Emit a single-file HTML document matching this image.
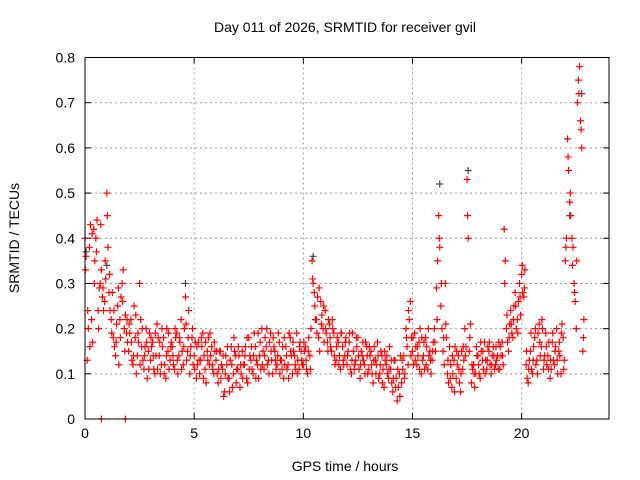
<!DOCTYPE html>
<html><head><meta charset="utf-8"><style>
html,body{margin:0;padding:0;background:#fff}
svg{display:block;font-family:"Liberation Sans",sans-serif}
</style></head><body>
<svg id="chart" width="640" height="480">
<rect width="640" height="480" fill="#fff"/>
<text x="345" y="32" text-anchor="middle" font-size="14">Day 011 of 2026, SRMTID for receiver gvil</text>
<text x="345" y="471" text-anchor="middle" font-size="14">GPS time / hours</text>
<text x="19" y="238" text-anchor="middle" font-size="14" transform="rotate(-90 19 238)">SRMTID / TECUs</text>
<g id="grid"></g><g id="ticks"></g><g id="marks"></g>
<rect x="85" y="57.5" width="524" height="361.5" fill="none" stroke="#000" stroke-width="1"/>
</svg>
<script>
const xTicks=[0,5,10,15,20];
const yTicks=[0,0.1,0.2,0.3,0.4,0.5,0.6,0.7,0.8];
const yTickLabels=["0","0.1","0.2","0.3","0.4","0.5","0.6","0.7","0.8"];
const seriesA=[0.40,0.13,0.38,0.22,0.42,0.40,0.24,0.30,0.27,0.26,
0.50,0.28,0.22,0.18,0.14,0.25,0.22,0.30,0.20,0.19,
0.15,0.22,0.12,0.18,0.14,0.30,0.16,0.11,0.20,0.15,
0.13,0.17,0.10,0.21,0.14,0.12,0.18,0.09,0.15,0.13,
0.16,0.11,0.19,0.14,0.22,0.12,0.27,0.15,0.10,0.18,
0.14,0.09,0.17,0.13,0.19,0.11,0.15,0.12,0.16,0.10,
0.13,0.08,0.15,0.11,0.06,0.12,0.09,0.16,0.10,0.14,
0.11,0.07,0.15,0.12,0.09,0.18,0.13,0.10,0.16,0.12,
0.14,0.20,0.11,0.16,0.13,0.19,0.10,0.15,0.12,0.17,
0.13,0.09,0.16,0.12,0.18,0.10,0.14,0.19,0.11,0.15,
0.12,0.16,0.10,0.14,0.35,0.28,0.22,0.18,0.26,0.20,
0.24,0.17,0.21,0.15,0.19,0.13,0.17,0.11,0.16,0.14,
0.12,0.17,0.10,0.15,0.13,0.18,0.09,0.14,0.12,0.16,
0.11,0.15,0.08,0.13,0.17,0.10,0.14,0.07,0.12,0.09,
0.11,0.06,0.13,0.04,0.10,0.08,0.14,0.20,0.12,0.26,
0.15,0.19,0.12,0.17,0.10,0.14,0.18,0.11,0.15,0.13,
0.20,0.29,0.45,0.25,0.15,0.30,0.10,0.16,0.07,0.13,
0.09,0.14,0.06,0.11,0.20,0.53,0.15,0.08,0.12,0.10,
0.14,0.09,0.13,0.17,0.11,0.15,0.10,0.16,0.12,0.14,
0.11,0.17,0.42,0.20,0.15,0.24,0.18,0.28,0.22,0.30,
0.32,0.27,0.12,0.08,0.15,0.10,0.18,0.13,0.21,0.16,
0.11,0.19,0.14,0.09,0.17,0.12,0.20,0.15,0.10,0.18,
0.35,0.62,0.48,0.40,0.30,0.20,0.75,0.66,0.15];
const seriesB=[0.36,0.20,0.43,0.17,0.35,0.44,0.29,0.33,0.24,0.31,
0.38,0.24,0.28,0.16,0.21,0.12,0.27,0.33,0.23,0.17,
0.19,0.13,0.25,0.10,0.17,0.22,0.13,0.16,0.09,0.19,
0.16,0.11,0.14,0.18,0.10,0.16,0.12,0.20,0.11,0.17,
0.12,0.18,0.10,0.17,0.15,0.20,0.13,0.24,0.16,0.12,
0.17,0.12,0.10,0.16,0.14,0.08,0.18,0.14,0.11,0.15,
0.10,0.15,0.12,0.05,0.14,0.09,0.13,0.07,0.15,0.11,
0.14,0.10,0.12,0.16,0.08,0.14,0.11,0.19,0.13,0.09,
0.11,0.15,0.18,0.12,0.17,0.13,0.16,0.11,0.19,0.13,
0.16,0.12,0.11,0.19,0.14,0.15,0.11,0.13,0.17,0.12,
0.15,0.11,0.18,0.20,0.30,0.22,0.27,0.15,0.23,0.17,
0.19,0.22,0.16,0.20,0.12,0.18,0.14,0.19,0.12,0.18,
0.15,0.11,0.19,0.12,0.16,0.11,0.15,0.13,0.17,0.10,
0.14,0.10,0.16,0.12,0.09,0.15,0.11,0.13,0.10,0.16,
0.08,0.13,0.09,0.07,0.14,0.11,0.10,0.16,0.22,0.18,
0.12,0.16,0.14,0.20,0.13,0.11,0.16,0.14,0.10,0.17,
0.15,0.35,0.38,0.20,0.12,0.18,0.08,0.12,0.10,0.16,
0.12,0.08,0.15,0.13,0.16,0.40,0.21,0.11,0.07,0.14,
0.10,0.15,0.11,0.13,0.16,0.12,0.14,0.11,0.13,0.17,
0.14,0.12,0.35,0.17,0.21,0.19,0.25,0.20,0.26,0.23,
0.28,0.33,0.09,0.13,0.11,0.16,0.12,0.19,0.14,0.20,
0.14,0.12,0.17,0.11,0.13,0.16,0.10,0.14,0.21,0.13,
0.40,0.55,0.45,0.38,0.26,0.70,0.78,0.60,0.22];
const seriesC=[0.33,0.24,0.16,0.41,0.30,0.37,0.20,0.43,0.29,0.35,
0.45,0.32,0.19,0.24,0.17,0.29,0.18,0.26,0.15,0.22,
0.21,0.17,0.14,0.23,0.19,0.12,0.20,0.14,0.17,0.11,
0.18,0.14,0.19,0.11,0.17,0.20,0.10,0.14,0.19,0.16,
0.14,0.20,0.13,0.18,0.11,0.16,0.21,0.18,0.14,0.20,
0.11,0.16,0.13,0.18,0.09,0.17,0.13,0.19,0.12,0.17,
0.15,0.11,0.09,0.14,0.10,0.16,0.06,0.12,0.18,0.08,
0.16,0.12,0.09,0.14,0.18,0.11,0.16,0.14,0.09,0.19,
0.17,0.12,0.14,0.20,0.10,0.15,0.18,0.13,0.14,0.10,
0.11,0.18,0.14,0.09,0.15,0.17,0.12,0.10,0.16,0.13,
0.17,0.13,0.15,0.11,0.31,0.25,0.19,0.29,0.21,0.25,
0.20,0.15,0.18,0.22,0.14,0.16,0.12,0.19,0.13,0.17,
0.14,0.19,0.13,0.11,0.18,0.14,0.12,0.17,0.10,0.14,
0.16,0.12,0.13,0.10,0.14,0.12,0.08,0.15,0.14,0.11,
0.13,0.09,0.07,0.11,0.05,0.13,0.09,0.18,0.24,0.14,
0.18,0.13,0.16,0.11,0.18,0.17,0.12,0.20,0.13,0.15,
0.17,0.22,0.40,0.30,0.18,0.21,0.13,0.09,0.14,0.06,
0.15,0.11,0.10,0.16,0.14,0.45,0.18,0.12,0.10,0.16,
0.12,0.17,0.15,0.10,0.13,0.17,0.12,0.14,0.16,0.11,
0.16,0.14,0.30,0.23,0.18,0.21,0.22,0.25,0.19,0.27,
0.34,0.29,0.15,0.11,0.19,0.13,0.20,0.10,0.17,0.22,
0.13,0.16,0.11,0.13,0.19,0.15,0.13,0.17,0.19,0.11,
0.38,0.58,0.50,0.34,0.28,0.35,0.72,0.64,0.18];
const zeroTimes=[0.75,1.85];
const zeroValues=[0,0];
const blackTimes=[0.05,1.0,4.6,10.45,16.25,17.55,22.2,22.75];
const blackValues=[0.37,0.34,0.30,0.36,0.52,0.55,0.45,0.72];

const X0=85,X1=609,Y0=419,Y1=57.5;
function sx(t){return X0+(X1-X0)*t/24;}
function sy(v){return Y0-(Y0-Y1)*v/0.8;}
const NS="http://www.w3.org/2000/svg";
function mk(tag,attrs,parent){const e=document.createElementNS(NS,tag);for(const k in attrs)e.setAttribute(k,attrs[k]);parent.appendChild(e);return e;}
const grid=document.getElementById('grid'),ticks=document.getElementById('ticks'),marks=document.getElementById('marks');
xTicks.forEach(t=>{
 const x=sx(t);
 if(t>0){const g=mk('line',{x1:x,x2:x,y1:Y1,y2:Y0,stroke:'#999','stroke-dasharray':'2,3'},grid);
 
 }
 mk('line',{x1:x,x2:x,y1:Y0,y2:Y0-6,stroke:'#000'},ticks);
 mk('line',{x1:x,x2:x,y1:Y1,y2:Y1+6,stroke:'#000'},ticks);
 const l=mk('text',{x:x,y:Y0+19,'text-anchor':'middle','font-size':'14'},ticks);
 l.textContent=String(t);
 
 
});
yTicks.forEach((v,i)=>{
 const y=sy(v);
 if(v>0&&v<0.8){const g=mk('line',{x1:X0,x2:X1,y1:y,y2:y,stroke:'#999','stroke-dasharray':'2,3'},grid);
 
 }
 mk('line',{x1:X0,x2:X0+6,y1:y,y2:y,stroke:'#000'},ticks);
 mk('line',{x1:X1,x2:X1-6,y1:y,y2:y,stroke:'#000'},ticks);
 const l=mk('text',{x:X0-10,y:y+5,'text-anchor':'end','font-size':'14'},ticks);
 l.textContent=yTickLabels[i];
 
 
});
function plus(t,v,color,name){
 const x=sx(t),y=sy(v);
 const p=mk('path',{d:`M${x-3.5},${y}H${x+3.5}M${x},${y-3.5}V${y+3.5}`,stroke:color,'stroke-width':'1.2',fill:'none'},marks);
 
 
}
blackTimes.forEach((t,i)=>plus(t,blackValues[i],'#444','black-point'));
seriesA.forEach((v,i)=>plus(i*0.1,v,'#f00','srmtid-point'));
seriesB.forEach((v,i)=>plus(i*0.1+0.05,v,'#f00','srmtid-point'));
seriesC.forEach((v,i)=>plus(i*0.1+0.025,v,'#f00','srmtid-point'));
zeroTimes.forEach((t,i)=>plus(t,zeroValues[i],'#f00','srmtid-zero-point'));
</script>
</body></html>
